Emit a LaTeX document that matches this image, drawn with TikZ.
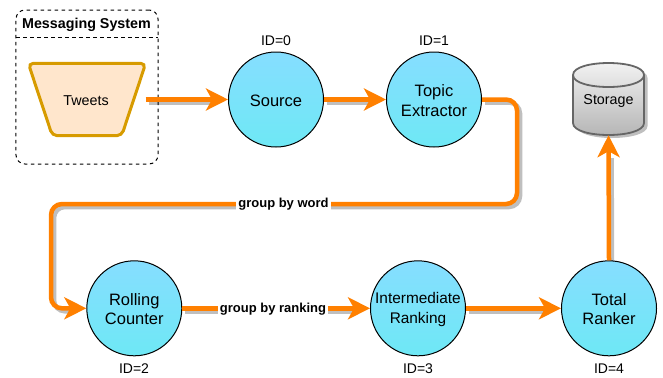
\documentclass[tikz,border=0pt]{standalone}
\usepackage{fontspec}
\setmainfont{Liberation Sans}
\usetikzlibrary{arrows.meta,backgrounds}
\definecolor{flow}{HTML}{FF8000}
\definecolor{shadowc}{HTML}{BFBFBF}
\definecolor{tweetfill}{HTML}{FFE6CC}
\definecolor{tweetline}{HTML}{D79B00}
\definecolor{circtop}{HTML}{86DEFF}
\definecolor{circbot}{HTML}{6EE8F5}
\tikzset{
  every node/.style={font=\fontsize{14.3bp}{16.5bp}\selectfont,text=black,inner sep=0pt,align=center},
  bolt/.style={circle,draw=black,line width=1bp,top color=circtop,bottom color=circbot,minimum size=95bp},
  bolttext/.style={font=\fontsize{16.5bp}{19.5bp}\selectfont},
  boltsmall/.style={font=\fontsize{15.4bp}{19.5bp}\selectfont},
  idtag/.style={font=\fontsize{14bp}{16bp}\selectfont},
  flowline/.style={draw=flow,line width=4.5bp,-{Stealth[length=22bp,width=22bp,inset=6bp]}},
  shadowline/.style={draw=shadowc,line width=4.5bp,shorten >=20bp},
  dashline/.style={draw=black,line width=1bp,dash pattern=on 3.5bp off 3.5bp},
  grouptag/.style={fill=white,font=\bfseries\fontsize{13bp}{15bp}\selectfont,inner xsep=2bp,inner ysep=1bp},
}
\begin{document}
\begin{tikzpicture}[x=1bp,y=-1bp]
\useasboundingbox (0,0) rectangle (663,377);
% Messaging system container
\node[dashline,rounded corners=9bp,minimum width=142bp,minimum height=154bp] (sys) at (87,87) {};
\node[font=\bfseries\fontsize{14.3bp}{16bp}\selectfont] (systitle) at (86.5,25) {Messaging System};
\coordinate (headL) at (16,37);
\coordinate (headR) at (158,37);
\draw[dashline] (headL) -- (headR);
% Tweets
\node[minimum width=117bp,minimum height=72bp] (tweets) at (87,99.5) {};
\draw[draw=tweetline,fill=tweetfill,line width=3bp,rounded corners=5bp]
  (tweets.north west) -- (tweets.north east) -- ([xshift=-24bp]tweets.south east) -- ([xshift=24bp]tweets.south west) -- cycle;
\node (tweetstext) at (86,101) {Tweets};
% Circles
\node[bolt] (source) at (276,99.5) {};
\node[bolttext] (sourcetext) at (276,100.5) {Source};
\node[bolt] (topic) at (434,99.5) {};
\node[bolttext] (topictext) at (434,100.5) {Topic\\Extractor};
\node[bolt] (rolling) at (134.3,308.3) {};
\node[bolttext] (rollingtext) at (134.3,309.3) {Rolling\\Counter};
\node[bolt] (inter) at (418,308.3) {};
\node[boltsmall] (intertext) at (418,309.3) {Intermediate\\Ranking};
\node[bolt] (total) at (609,308.3) {};
\node[bolttext] (totaltext) at (609,309.3) {Total\\Ranker};
% Ids
\node[idtag] (id0) at (276,41) {ID=0};
\node[idtag] (id1) at (434,41) {ID=1};
\node[idtag] (id2) at (134,369) {ID=2};
\node[idtag] (id3) at (418,369) {ID=3};
\node[idtag] (id4) at (609,369) {ID=4};
% Storage
\fill[shadowc] (576.5,78) .. controls (576.5,62) and (647.5,62) .. (647.5,78) -- (647.5,126) .. controls (647.5,142) and (576.5,142) .. (576.5,126) -- cycle;
\shade[top color=black!4,bottom color=black!30] (573,75) .. controls (573,59) and (644,59) .. (644,75) -- (644,123) .. controls (644,139) and (573,139) .. (573,123) -- cycle;
\draw[draw=black!60,line width=1.8bp] (573,75) .. controls (573,59) and (644,59) .. (644,75) -- (644,123) .. controls (644,139) and (573,139) .. (573,123) -- cycle
  (573,75) .. controls (573,91) and (644,91) .. (644,75);
\node[minimum width=71bp,minimum height=72bp] (storage) at (608.5,99) {};
\node (storagetext) at (608.5,101) {Storage};
% Connector geometry
\coordinate (c1) at (517,99.5);
\coordinate (c2) at (517,204);
\coordinate (c3) at (51,204);
\coordinate (c4) at (51,308.3);
% Shadows
\begin{pgfonlayer}{background}
\begin{scope}[transform canvas={shift={(3bp,-3bp)}}]
\draw[shadowline] (tweets.east) -- (source.west);
\draw[shadowline] (source.east) -- (topic.west);
\draw[shadowline,rounded corners=11bp] (topic.east) -- (c1) -- (c2) -- (c3) -- (c4) -- (rolling.west);
\draw[shadowline] (rolling.east) -- (inter.west);
\draw[shadowline] (inter.east) -- (total.west);
\draw[shadowline] (total.north) -- (storage.south);
\end{scope}
\end{pgfonlayer}
% Connectors
\draw[flowline] (tweets.east) -- (source.west);
\draw[flowline] (source.east) -- (topic.west);
\draw[flowline,rounded corners=11bp] (topic.east) -- (c1) -- (c2) -- (c3) -- (c4) -- (rolling.west);
\node[grouptag] (gw) at (283.5,204.5) {group by word};
\draw[flowline] (rolling.east) -- (inter.west);
\node[grouptag] (gr) at (273,309.5) {group by ranking};
\draw[flowline] (inter.east) -- (total.west);
\draw[flowline] (total.north) -- (storage.south);
\end{tikzpicture}
\end{document}
